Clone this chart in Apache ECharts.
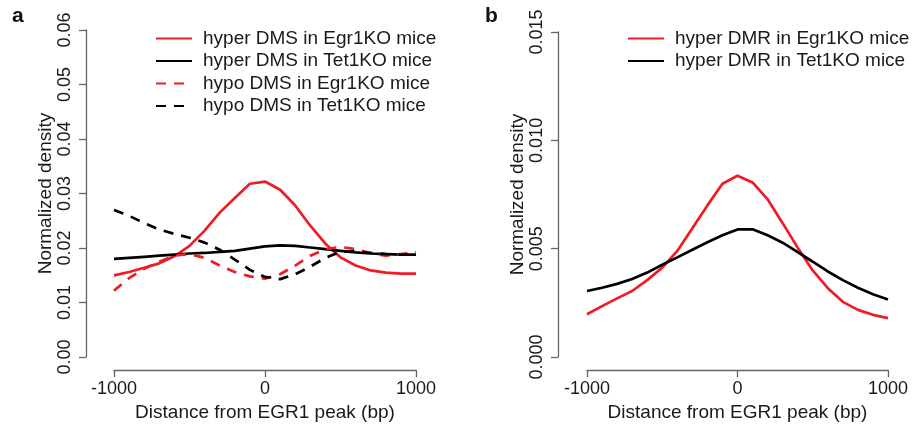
<!DOCTYPE html>
<html>
<head>
<meta charset="utf-8">
<script src="https://cdn.jsdelivr.net/npm/echarts@6/dist/echarts.min.js"></script>
<style>
html,body{margin:0;padding:0;background:#fff;}
#c{width:912px;height:427px;}
</style>
</head>
<body>
<div id="c"></div>
<script>
// Distance from EGR1 peak (bp)
var positions = [-1000,-900,-800,-700,-600,-500,-400,-300,-200,-100,0,100,200,300,400,500,600,700,800,900,1000];

// Panel a
var hyperDmsEgr1 = [0.0150,0.0156,0.0164,0.0172,0.0185,0.0204,0.0232,0.0265,0.0292,0.0318,0.0322,0.0307,0.0278,0.0241,0.0208,0.0183,0.0168,0.0159,0.0155,0.0153,0.0153];
var hyperDmsTet1 = [0.0180,0.0182,0.0184,0.0186,0.0188,0.0190,0.0191,0.0193,0.0195,0.0199,0.0203,0.0205,0.0204,0.0201,0.0198,0.0195,0.0192,0.0190,0.0189,0.0188,0.0188];
var hypoDmsEgr1 = [0.0122,0.0145,0.0162,0.0175,0.0186,0.0189,0.0182,0.0168,0.0156,0.0148,0.0144,0.0152,0.0168,0.0186,0.0198,0.0202,0.0198,0.0191,0.0186,0.0189,0.0192];
var hypoDmsTet1 = [0.0270,0.0259,0.0246,0.0234,0.0226,0.0219,0.0210,0.0197,0.0179,0.0160,0.0147,0.0143,0.0152,0.0166,0.0182,0.0193,0.0194,0.0191,0.0189,0.0188,0.0188];

// Panel b
var hyperDmrEgr1 = [0.00198,0.00235,0.00271,0.00305,0.00355,0.00413,0.00490,0.00594,0.00700,0.00800,0.00837,0.00806,0.00728,0.00618,0.00505,0.00400,0.00318,0.00255,0.00218,0.00195,0.00180];
var hyperDmrTet1 = [0.00305,0.00320,0.00338,0.00360,0.00390,0.00426,0.00460,0.00495,0.00530,0.00562,0.00589,0.00590,0.00562,0.00528,0.00484,0.00440,0.00395,0.00355,0.00320,0.00290,0.00266];

// Tick labels
var xTickLabels = ['-1000','0','1000'];
var yTickLabelsA = ['0.00','0.01','0.02','0.03','0.04','0.05','0.06'];
var yTickLabelsB = ['0.000','0.005','0.010','0.015'];

var namesA = ['hyper DMS in Egr1KO mice','hyper DMS in Tet1KO mice','hypo DMS in Egr1KO mice','hypo DMS in Tet1KO mice'];
var namesB = ['hyper DMR in Egr1KO mice','hyper DMR in Tet1KO mice'];

function pairs(ys){ return positions.map(function(x,i){ return [x, ys[i]]; }); }

var FONT = '"Liberation Sans", Arial, sans-serif';
var AXIS_COLOR = '#666';
var TEXT_COLOR = '#1a1a1a';
var RED = '#ee1c25';
var BLACK = '#000';

function xAxisCfg(gi){
  return {
    gridIndex: gi, type: 'value', min: -1000, max: 1000, interval: 1000, offset: 13,
    name: 'Distance from EGR1 peak (bp)', nameLocation: 'middle', nameGap: 29,
    nameTextStyle: {fontFamily: FONT, fontSize: 19, color: TEXT_COLOR},
    axisLine: {show: true, onZero: false, lineStyle: {color: AXIS_COLOR, width: 1.3}},
    axisTick: {show: true, length: 7, lineStyle: {color: AXIS_COLOR, width: 1.3}},
    axisLabel: {fontFamily: FONT, fontSize: 18, color: TEXT_COLOR, margin: 10,
      formatter: function(v){ var i = xTickLabels.indexOf(String(v)); return i >= 0 ? xTickLabels[i] : ''; }},
    splitLine: {show: false}
  };
}
function yAxisCfg(gi, max, interval, labels, off){
  return {
    gridIndex: gi, type: 'value', min: 0, max: max, interval: interval, offset: off,
    name: 'Normalized density', nameLocation: 'middle', nameGap: 31,
    nameTextStyle: {fontFamily: FONT, fontSize: 19, color: TEXT_COLOR},
    axisLine: {show: true, onZero: false, lineStyle: {color: AXIS_COLOR, width: 1.3}},
    axisTick: {show: true, length: 7, lineStyle: {color: AXIS_COLOR, width: 1.3}},
    axisLabel: {fontFamily: FONT, fontSize: 18, color: TEXT_COLOR, rotate: 90, margin: 12,
      align: 'center', verticalAlign: 'bottom',
      formatter: function(v){ return labels[Math.round(v / interval)]; }},
    splitLine: {show: false}
  };
}
function lineSeries(name, ys, color, dashed, xi, yi){
  return {
    type: 'line', name: name, data: pairs(ys), xAxisIndex: xi, yAxisIndex: yi,
    symbol: 'none', smooth: false, animation: false,
    lineStyle: {color: color, width: 2.7, type: dashed ? [10, 8] : 'solid'},
    itemStyle: {color: color}
  };
}
function legendCfg(left, names){
  return {
    left: left, top: 24, orient: 'vertical', data: names,
    itemWidth: 36, itemHeight: 14, itemGap: 3.5,
    itemStyle: {opacity: 0},
    textStyle: {fontFamily: FONT, fontSize: 19, color: TEXT_COLOR, padding: [0,0,0,6], lineHeight: 18.5},
    selectedMode: false
  };
}

var chart = echarts.init(document.getElementById('c'), null, {renderer: 'canvas'});
chart.setOption({
  animation: false,
  backgroundColor: '#fff',
  grid: [
    {left: 114, right: 496, top: 30, bottom: 67},
    {left: 587, right: 24, top: 32, bottom: 67}
  ],
  xAxis: [xAxisCfg(0), xAxisCfg(1)],
  yAxis: [
    yAxisCfg(0, 0.06, 0.01, yTickLabelsA, 28),
    yAxisCfg(1, 0.015, 0.005, yTickLabelsB, 29)
  ],
  legend: [legendCfg(150, namesA), legendCfg(622, namesB)],
  series: [
    lineSeries(namesA[0], hyperDmsEgr1, RED, false, 0, 0),
    lineSeries(namesA[1], hyperDmsTet1, BLACK, false, 0, 0),
    lineSeries(namesA[2], hypoDmsEgr1, RED, true, 0, 0),
    lineSeries(namesA[3], hypoDmsTet1, BLACK, true, 0, 0),
    lineSeries(namesB[0], hyperDmrEgr1, RED, false, 1, 1),
    lineSeries(namesB[1], hyperDmrTet1, BLACK, false, 1, 1)
  ],
  graphic: [
    {type: 'text', left: 12, top: 6, style: {text: 'a', font: 'bold 21px ' + FONT, fill: '#111'}},
    {type: 'text', left: 485, top: 6, style: {text: 'b', font: 'bold 21px ' + FONT, fill: '#111'}}
  ]
});
</script>
</body>
</html>
